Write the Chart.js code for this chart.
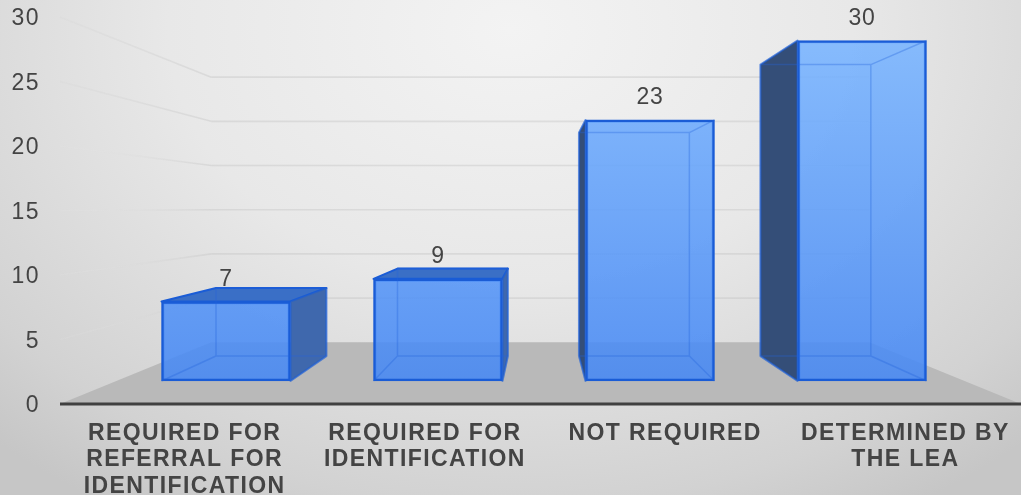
<!DOCTYPE html>
<html>
<head>
<meta charset="utf-8">
<style>
  html, body { margin: 0; padding: 0; width: 1021px; height: 495px; overflow: hidden;
    background: radial-gradient(ellipse 760px 560px at 50% 6%, #f3f3f3 0%, #e8e8e8 45%, #d2d2d2 85%, #c6c6c6 100%); }
  canvas { display: block; }
</style>
<script src="https://cdn.jsdelivr.net/npm/chart.js@4"></script>
</head>
<body>
<canvas id="c" width="1021" height="495"></canvas>
<script>
const categories = [
  ["REQUIRED FOR", "REFERRAL FOR", "IDENTIFICATION"],
  ["REQUIRED FOR", "IDENTIFICATION"],
  ["NOT REQUIRED"],
  ["DETERMINED BY", "THE LEA"]
];
const counts = [7, 9, 23, 30];
const axisMin = 0;
const axisMax = 30;
const axisStep = 5;

// Perspective of the box scene: vanishing point and depth factors.
const VANISH_X = 540, VANISH_Y = 208;
const BAR_DEPTH = 0.856, WALL_DEPTH = 0.685;
const project = (x, y, k) => [VANISH_X + (x - VANISH_X) * k, VANISH_Y + (y - VANISH_Y) * k];

const EDGE = '#1a5cd6';
const SOFT_EDGE = 'rgba(26,92,214,0.55)';
const INNER_LINE = 'rgba(34,100,220,0.34)';
const WALL_LINE = 'rgba(196,196,196,0.42)';
const TEXT = '#444444';
const SPACING = '1.4px';

function poly(ctx, pts, fill, stroke, lw) {
  ctx.beginPath();
  pts.forEach((p, i) => i ? ctx.lineTo(p[0], p[1]) : ctx.moveTo(p[0], p[1]));
  ctx.closePath();
  if (fill) { ctx.fillStyle = fill; ctx.fill(); }
  if (stroke) { ctx.strokeStyle = stroke; ctx.lineWidth = lw || 1; ctx.lineJoin = 'round'; ctx.stroke(); }
}

function boxCorners(el) {
  const half = el.width / 2;
  const l = el.x - half, r = el.x + half, t = el.y, b = el.base;
  return {
    l, r, t, b,
    bl: project(l, t, BAR_DEPTH), br: project(r, t, BAR_DEPTH),
    dl: project(l, b, BAR_DEPTH), dr: project(r, b, BAR_DEPTH)
  };
}

// Floor, back wall rules and the outside faces of each box, under the front faces.
const sceneBehind = {
  id: 'sceneBehind',
  beforeDraw(chart) { chart.ctx.letterSpacing = SPACING; },
  beforeDatasetsDraw(chart) {
    const ctx = chart.ctx, y = chart.scales.y, area = chart.chartArea;
    ctx.letterSpacing = '0px';
    const axisL = area.left, axisR = area.right, y0 = y.getPixelForValue(axisMin);

    const floorL = project(axisL, y0, WALL_DEPTH), floorR = project(axisR, y0, WALL_DEPTH);
    poly(ctx, [[axisL, y0], [axisR, y0], floorR, floorL], '#b9b9b9');

    for (let v = axisMin + axisStep; v <= axisMax; v += axisStep) {
      const py = y.getPixelForValue(v);
      const backL = project(axisL, py, WALL_DEPTH), backR = project(axisR, py, WALL_DEPTH);
      ctx.lineWidth = 1.6;
      ctx.strokeStyle = WALL_LINE;
      ctx.beginPath();
      ctx.moveTo(backL[0], backL[1]);
      ctx.lineTo(backR[0], backR[1]);
      ctx.stroke();
      const fade = ctx.createLinearGradient(axisL, 0, backL[0], 0);
      fade.addColorStop(0, v >= 25 ? 'rgba(205,205,205,0.12)' : 'rgba(240,240,240,0.08)');
      fade.addColorStop(1, WALL_LINE);
      ctx.strokeStyle = fade;
      ctx.beginPath();
      ctx.moveTo(axisL, py);
      ctx.lineTo(backL[0], backL[1]);
      ctx.stroke();
    }

    ctx.fillStyle = '#404040';
    ctx.fillRect(axisL, y0 - 1.5, axisR - axisL, 3);

    chart.getDatasetMeta(0).data.forEach(el => {
      const c = boxCorners(el);
      if (c.bl[1] < c.t) {
        poly(ctx, [[c.l, c.t], [c.r, c.t], c.br, c.bl], '#3a6fc6', EDGE, 2);
      }
      if (c.dr[0] > c.r) {
        poly(ctx, [[c.r, c.t], c.br, c.dr, [c.r, c.b]], '#3f68ad', SOFT_EDGE, 2);
      }
      if (c.dl[0] < c.l) {
        poly(ctx, [[c.l, c.t], c.bl, c.dl, [c.l, c.b]], '#344e78', SOFT_EDGE, 2);
      }
    });
  },
  afterDatasetsDraw(chart) {
    const ctx = chart.ctx;
    chart.getDatasetMeta(0).data.forEach((el, i) => {
      const c = boxCorners(el);
      ctx.strokeStyle = INNER_LINE;
      ctx.lineWidth = 1.5;
      ctx.beginPath();
      // Rear rectangle and the receding edges seen through the front face.
      ctx.moveTo(c.bl[0], c.bl[1]); ctx.lineTo(c.br[0], c.br[1]);
      ctx.lineTo(c.dr[0], c.dr[1]); ctx.lineTo(c.dl[0], c.dl[1]); ctx.closePath();
      ctx.moveTo(c.l, c.b); ctx.lineTo(c.dl[0], c.dl[1]);
      ctx.moveTo(c.r, c.b); ctx.lineTo(c.dr[0], c.dr[1]);
      if (c.bl[1] > c.t) {
        ctx.moveTo(c.l, c.t); ctx.lineTo(c.bl[0], c.bl[1]);
        ctx.moveTo(c.r, c.t); ctx.lineTo(c.br[0], c.br[1]);
      }
      ctx.stroke();

      ctx.fillStyle = TEXT;
      ctx.font = '23px "Liberation Sans", Arial, sans-serif';
      ctx.letterSpacing = '0.6px';
      ctx.textAlign = 'center';
      ctx.textBaseline = 'middle';
      ctx.fillText(String(counts[i]), el.x, el.y - 22);
      ctx.letterSpacing = '0px';
    });
  }
};

const dropPadding = s => { s.paddingTop = s.paddingBottom = s.paddingLeft = s.paddingRight = 0; };

new Chart(document.getElementById('c'), {
  type: 'bar',
  data: {
    labels: categories,
    datasets: [{
      data: counts.map((v, i) => ({ x: i, y: v })),
      xAxisID: 'xBoxes',
      yAxisID: 'yBoxes',
      barThickness: 129,
      borderWidth: 2.5,
      borderColor: EDGE,
      borderSkipped: false,
      backgroundColor(ctx) {
        const area = ctx.chart.chartArea;
        if (!area) return '#5c9bf5';
        const s = ctx.chart.scales.yBoxes;
        const top = s.getPixelForValue(axisMax), bottom = s.getPixelForValue(0);
        if (!isFinite(top) || !isFinite(bottom)) return '#5c9bf5';
        const g = ctx.chart.ctx.createLinearGradient(0, top, 0, bottom);
        g.addColorStop(0, 'rgba(120,180,255,0.88)');
        g.addColorStop(1, 'rgba(70,136,244,0.88)');
        return g;
      }
    }]
  },
  options: {
    responsive: false,
    animation: false,
    layout: { padding: { top: 17, right: 0, left: 0, bottom: 0 } },
    plugins: { legend: { display: false }, tooltip: { enabled: false } },
    scales: {
      x: {
        type: 'category',
        offset: true,
        grid: { display: false },
        border: { display: false },
        afterFit(s) { s.height = 91; dropPadding(s); },
        ticks: {
          autoSkip: false, maxRotation: 0, minRotation: 0, padding: 8, labelOffset: 4.5, color: TEXT,
          font: { family: '"Liberation Sans", Arial, sans-serif', size: 23, weight: 'bold', lineHeight: 1.16 }
        }
      },
      y: {
        min: axisMin, max: axisMax,
        grid: { display: false },
        border: { display: false },
        afterFit(s) { s.width = 60; dropPadding(s); },
        ticks: {
          stepSize: axisStep, padding: 12, labelOffset: 2, color: TEXT,
          font: { family: '"Liberation Sans", Arial, sans-serif', size: 23 }
        }
      },
      // The boxes stand on a nearer plane than the value axis and the category labels.
      xBoxes: { type: 'linear', axis: 'x', display: false, min: -0.783, max: 3.75, offset: false },
      yBoxes: { type: 'linear', axis: 'y', display: false, min: -2.03, max: 32.07 }
    }
  },
  plugins: [sceneBehind]
});
</script>
</body>
</html>
